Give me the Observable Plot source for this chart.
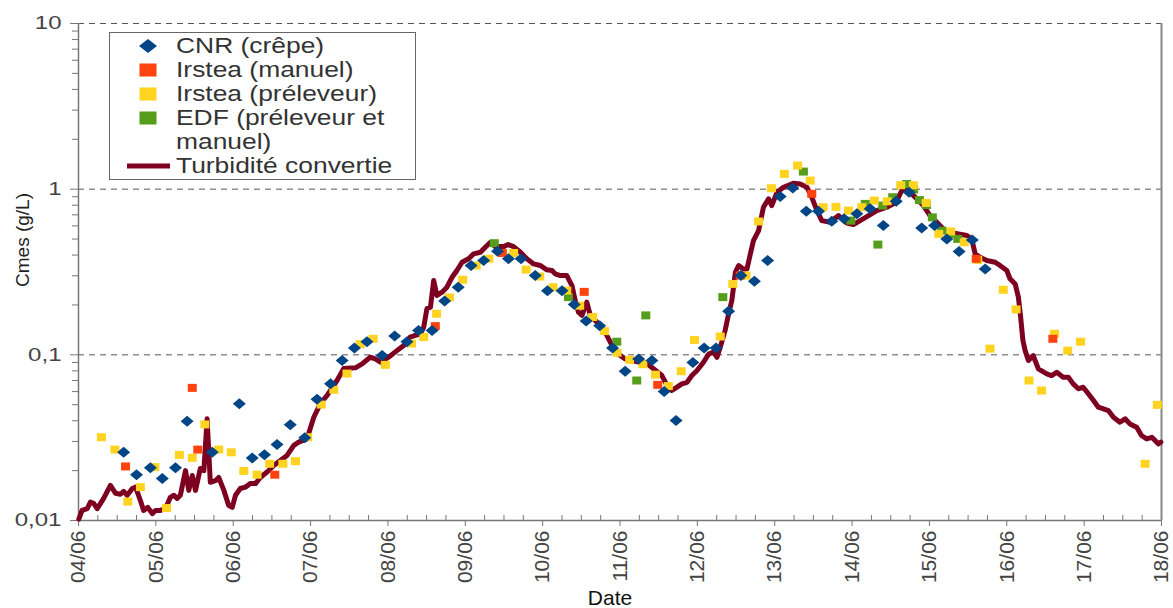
<!DOCTYPE html>
<html><head><meta charset="utf-8">
<script src="https://cdn.jsdelivr.net/npm/d3@7"></script>
<script src="https://cdn.jsdelivr.net/npm/@observablehq/plot@0.6"></script>
<style>
body{margin:0;background:#fff;}
#chart{position:relative;width:1173px;height:608px;}
svg text{font-family:"Liberation Sans",Arial,sans-serif;}
</style></head><body><div id="chart"></div>
<script>
// ---- data (hours since 04/06 00:00, concentration g/L) ----
const turbHours = [0.1,1.1,2.7,3.7,4.7,5.8,7.8,9.9,11.5,13.0,14.0,15.1,16.7,17.7,19.2,20.2,21.5,22.9,23.9,25.4,27.0,28.5,29.6,30.6,31.6,33.2,34.2,35.3,36.3,37.8,38.9,39.9,40.9,42.5,43.5,45.1,46.6,47.7,48.7,50.2,51.8,53.3,54.9,56.4,58.5,60.6,62.6,64.7,66.8,68.3,70.9,73.0,75.0,77.1,80.2,82.3,85.9,88.0,90.5,92.1,93.7,96.2,98.8,100.9,102.9,104.5,106.1,107.1,108.1,109.2,110.2,111.2,112.8,114.3,115.9,117.4,119.0,121.0,122.6,124.7,126.2,127.8,129.3,131.9,133.3,135.0,137.1,139.1,141.2,143.3,145.3,146.9,147.9,149.5,151.5,153.1,154.1,155.1,156.2,157.7,158.8,161.3,163.4,165.5,167.5,169.6,171.2,174.3,176.4,178.4,181.0,182.6,184.1,185.7,187.2,188.8,190.3,191.9,193.9,195.5,197.0,198.1,199.1,200.6,201.7,202.7,203.8,204.8,206.3,207.4,208.4,209.4,211.0,212.5,214.1,215.1,216.7,218.7,221.8,223.9,226.0,227.5,229.1,230.6,233.2,235.8,238.4,240.4,242.5,245.1,247.7,250.8,252.8,254.4,255.4,257.0,258.5,260.1,262.1,264.2,266.3,268.3,270.4,273.0,275.6,277.1,278.2,279.7,281.8,284.4,285.9,288.0,289.0,290.6,291.6,292.3,293.0,293.7,294.7,296.2,297.8,300.4,301.9,303.5,305.5,307.1,308.6,310.2,311.7,313.3,314.9,316.4,318.0,319.5,321.1,323.1,324.7,326.2,328.3,329.8,331.4,333.0,334.0,335.0,335.8];
const turbValues = [0.0102,0.0115,0.0118,0.0129,0.0127,0.0118,0.0136,0.0163,0.0146,0.0144,0.0150,0.0142,0.0156,0.0159,0.0132,0.0115,0.0120,0.0110,0.0115,0.0115,0.0118,0.0138,0.0142,0.0136,0.0142,0.0200,0.0152,0.0187,0.0152,0.0206,0.0200,0.0411,0.0170,0.0174,0.0182,0.0152,0.0123,0.0120,0.0142,0.0156,0.0159,0.0167,0.0167,0.0182,0.0196,0.0215,0.0230,0.0247,0.0284,0.0297,0.0311,0.0420,0.0506,0.0568,0.0700,0.0827,0.0835,0.0882,0.0967,0.0946,0.0902,0.0967,0.106,0.114,0.128,0.131,0.134,0.147,0.190,0.194,0.281,0.228,0.239,0.256,0.294,0.323,0.362,0.380,0.407,0.416,0.446,0.478,0.450,0.450,0.463,0.450,0.416,0.380,0.354,0.346,0.326,0.323,0.308,0.301,0.301,0.262,0.213,0.181,0.173,0.208,0.173,0.154,0.137,0.114,0.101,0.0946,0.0924,0.0902,0.0882,0.0823,0.0750,0.0653,0.0609,0.0638,0.0668,0.0683,0.0750,0.0804,0.0902,0.101,0.104,0.0967,0.111,0.140,0.177,0.213,0.315,0.346,0.330,0.330,0.403,0.489,0.562,0.778,0.874,0.796,0.957,1.027,1.085,1.076,1.027,0.894,0.743,0.646,0.631,0.693,0.624,0.611,0.646,0.693,0.743,0.778,0.815,0.894,0.981,1.027,0.937,0.874,0.796,0.693,0.631,0.575,0.549,0.537,0.525,0.501,0.407,0.388,0.371,0.362,0.346,0.323,0.288,0.268,0.223,0.169,0.122,0.106,0.0924,0.0990,0.0823,0.0768,0.0750,0.0785,0.0732,0.0732,0.0668,0.0624,0.0638,0.0582,0.0530,0.0483,0.0472,0.0461,0.0420,0.0392,0.0411,0.0383,0.0366,0.0326,0.0311,0.0318,0.0304,0.0290,0.0297];

const cnrHours = [14,18,22.3,26,30.1,33.7,41.5,49.9,53.9,57.7,61.6,65.7,70.2,74,78.2,81.8,85.6,89.5,94.2,98.1,101.9,105.5,109.7,113.6,117.8,121.8,125.7,130,133.4,137.3,141.7,145.5,150,153.8,157.5,161.7,165.7,169.6,173.8,177.9,181.7,185.4,190.6,194.1,197.8,201.7,205.5,209.7,213.8,217.7,221.6,225.8,229.6,233.7,237.5,241.5,245.6,249.7,253.7,257.7,261.6,265.6,269.4,273.2,277.3,281.3];
const cnrValues = [0.0258,0.0189,0.0208,0.0179,0.0208,0.0397,0.0258,0.0506,0.0238,0.0249,0.0288,0.0378,0.0316,0.0540,0.0668,0.0924,0.110,0.120,0.0990,0.130,0.120,0.140,0.140,0.211,0.256,0.346,0.371,0.422,0.380,0.380,0.301,0.244,0.244,0.201,0.160,0.150,0.110,0.0796,0.0943,0.0924,0.0600,0.0401,0.0898,0.110,0.110,0.183,0.301,0.278,0.371,0.902,1.015,0.736,0.736,0.640,0.662,0.710,0.761,0.603,0.845,0.957,0.582,0.603,0.501,0.420,0.494,0.330];

const irsManHours = [14.6,35.3,37.0,60.9,110.7,131.5,156.9,179.7,205.3,227.5,278.5,302.3];
const irsManValues = [0.0212,0.0632,0.0268,0.0189,0.149,0.412,0.240,0.0659,0.301,0.937,0.380,0.125];

const irsPreHours = [7.1,11.3,15.3,19.2,23.7,27.3,31.3,35.3,39.2,43.5,47.4,51.3,55.4,59.3,63.4,67.3,71.1,75.3,79.2,83.3,87.4,91.4,95.2,103.3,107.1,111.1,115.1,119.2,123.4,127.3,135.0,138.9,143.1,147.2,151.5,155.5,159.5,163.2,167.1,171.0,175.1,179.0,183.0,187.0,191.1,199.1,203.0,207.1,211.0,215.0,219.0,223.1,227.0,231.0,235.0,238.9,243.0,246.9,250.9,255.1,259.0,263.0,266.9,270.6,274.8,279.0,282.8,286.9,290.9,294.9,298.8,302.8,306.9,310.9,330.9,334.7];
const irsPreValues = [0.0318,0.0268,0.0130,0.0159,0.0210,0.0119,0.0249,0.0239,0.0380,0.0268,0.0258,0.0199,0.0189,0.0220,0.0220,0.0228,0.0318,0.0501,0.0615,0.0771,0.116,0.125,0.0870,0.117,0.128,0.177,0.222,0.284,0.346,0.380,0.412,0.327,0.297,0.256,0.244,0.198,0.169,0.139,0.103,0.0934,0.0877,0.0759,0.0648,0.0796,0.123,0.129,0.268,0.301,0.638,1.013,1.237,1.388,1.127,0.778,0.782,0.743,0.778,0.853,0.845,1.056,1.056,0.826,0.537,0.556,0.478,0.374,0.109,0.247,0.188,0.0700,0.0609,0.134,0.106,0.120,0.0220,0.0499];

const edfHours = [129.0,152.0,167.0,173.2,176.0,199.9,224.9,239.6,244.1,248.0,249.5,252.6,256.9,259.1,260.9,263.1,264.9,267.8,270.2,272.8];
const edfValues = [0.472,0.223,0.120,0.0700,0.173,0.223,1.277,0.646,0.815,0.463,0.796,0.894,1.074,0.995,0.859,0.802,0.676,0.562,0.537,0.501];

const dayLabels = ["04/06","05/06","06/06","07/06","08/06","09/06","10/06","11/06","12/06","13/06","14/06","15/06","16/06","17/06","18/06"];
const yTickValues = [0.01, 0.1, 1, 10];
const yTickLabels = ["0,01", "0,1", "1", "10"];
const gridValues = [0.1, 1, 10];
const legendLabels = ["CNR (crêpe)", "Irstea (manuel)", "Irstea (préleveur)", "EDF (préleveur et", "manuel)", "Turbidité convertie"];
const colors = {cnr: "#004586", man: "#ff420e", pre: "#ffd320", edf: "#579d1c", turb: "#7e0021"};

// ---- build ----
const base = Date.UTC(2012, 5, 4);
const toDate = h => new Date(base + h * 3600000);
const zip = (hs, vs) => hs.map((h, i) => ({date: toDate(h), value: vs[i]}));
const turb = zip(turbHours, turbValues);
const cnr = zip(cnrHours, cnrValues);
const irsMan = zip(irsManHours, irsManValues);
const irsPre = zip(irsPreHours, irsPreValues);
const edf = zip(edfHours, edfValues);

const dayDates = dayLabels.map((_, i) => toDate(24 * i));
const xStart = dayDates[0], xEnd = dayDates[dayDates.length - 1];
const minorX = d3.utcHour.every(6).range(xStart, xEnd).filter(d => d.getUTCHours() !== 0);
const minorY = [];
for (const dec of [0.01, 0.1, 1]) for (let k = 2; k <= 9; k++) minorY.push(+(dec * k).toPrecision(3));

const diamond = {draw(ctx) { ctx.moveTo(0, -5.5); ctx.lineTo(6.5, 0); ctx.lineTo(0, 5.5); ctx.lineTo(-6.5, 0); ctx.closePath(); }};
const square = {draw(ctx) { ctx.rect(-4.5, -4, 9, 8); }};

const chart = Plot.plot({
  width: 1173, height: 608,
  marginLeft: 78, marginRight: 12, marginTop: 23, marginBottom: 88,
  style: {fontFamily: '"Liberation Sans", Arial, sans-serif', background: "white"},
  x: {type: "utc", domain: [xStart, xEnd], axis: null},
  y: {type: "log", domain: [0.01, 10], axis: null},
  marks: [
    Plot.ruleY(gridValues, {stroke: "#555", strokeWidth: 1, strokeDasharray: "6,5"}),
    Plot.ruleX([xStart], {stroke: "#777", strokeWidth: 1.5}),
    Plot.ruleX([xEnd], {stroke: "#888", strokeWidth: 2}),
    Plot.ruleY([0.01], {stroke: "#777", strokeWidth: 1.5}),
    Plot.axisY(minorY, {tickSize: 6, stroke: "#777", fill: "none", label: null}),
    Plot.axisY(yTickValues, {tickSize: 8, tickPadding: 9, stroke: "#777", fill: "#444", fontSize: 18.5, label: null,
      tickFormat: d => yTickLabels[yTickValues.indexOf(d)]}),
    Plot.axisX(minorX, {tickSize: 5, dy: -5, stroke: "#777", fill: "none", label: null}),
    Plot.axisX(dayDates, {tickSize: 6, tickPadding: 4, tickRotate: -90, stroke: "#777", fill: "#444", fontSize: 21, label: null,
      tickFormat: d => dayLabels[Math.round((d - xStart) / 86400000)]}),
    Plot.line(turb, {x: "date", y: "value", stroke: colors.turb, strokeWidth: 5, strokeLinejoin: "round", strokeLinecap: "round"}),
    Plot.dot(edf, {x: "date", y: "value", symbol: square, r: 5, fill: colors.edf, stroke: "none"}),
    Plot.dot(irsPre, {x: "date", y: "value", symbol: square, r: 5, fill: colors.pre, stroke: "none"}),
    Plot.dot(irsMan, {x: "date", y: "value", symbol: square, r: 5, fill: colors.man, stroke: "none"}),
    Plot.dot(cnr, {x: "date", y: "value", symbol: diamond, r: 5, fill: colors.cnr, stroke: "none"})
  ]
});
document.getElementById("chart").appendChild(chart);

const svg = d3.select(chart);
function stretch(sel, f) { sel.each(function() { const L = this.getComputedTextLength(); if (L > 0) { this.setAttribute("textLength", L * f); this.setAttribute("lengthAdjust", "spacingAndGlyphs"); } }); }
stretch(svg.selectAll('g[aria-label="y-axis tick label"] text'), 1.3);

// legend
const lg = svg.append("g").attr("font-family", '"Liberation Sans", Arial, sans-serif').attr("text-anchor", "start");
lg.append("rect").attr("x", 109.5).attr("y", 32.5).attr("width", 306).attr("height", 147).attr("fill", "white").attr("stroke", "#666").attr("stroke-width", 1);
lg.append("path").attr("d", "M148,39 L157,46 L148,53 L139,46Z").attr("fill", colors.cnr);
[[colors.man, 70], [colors.pre, 94], [colors.edf, 118]].forEach(([c, cy]) =>
  lg.append("rect").attr("x", 139.5).attr("y", cy - 6.5).attr("width", 17).attr("height", 13).attr("fill", c));
lg.append("line").attr("x1", 127).attr("x2", 170).attr("y1", 166).attr("y2", 166).attr("stroke", colors.turb).attr("stroke-width", 5);
const lt = lg.selectAll("text.leg").data(legendLabels).join("text").attr("class", "leg")
  .attr("x", 176).attr("y", (d, i) => 53 + 24 * i).attr("text-anchor", "start")
  .attr("font-size", 22).attr("fill", "#333").text(d => d);
stretch(lt, 1.2);

// axis titles
svg.append("text").attr("transform", "translate(29,240) rotate(-90)").attr("text-anchor", "middle")
  .attr("font-size", 19).attr("fill", "#222").attr("font-family", '"Liberation Sans", Arial, sans-serif').text("Cmes (g/L)");
svg.append("text").attr("x", 610).attr("y", 605).attr("text-anchor", "middle")
  .attr("font-size", 21).attr("fill", "#111").attr("font-family", '"Liberation Sans", Arial, sans-serif').text("Date");
</script></body></html>
